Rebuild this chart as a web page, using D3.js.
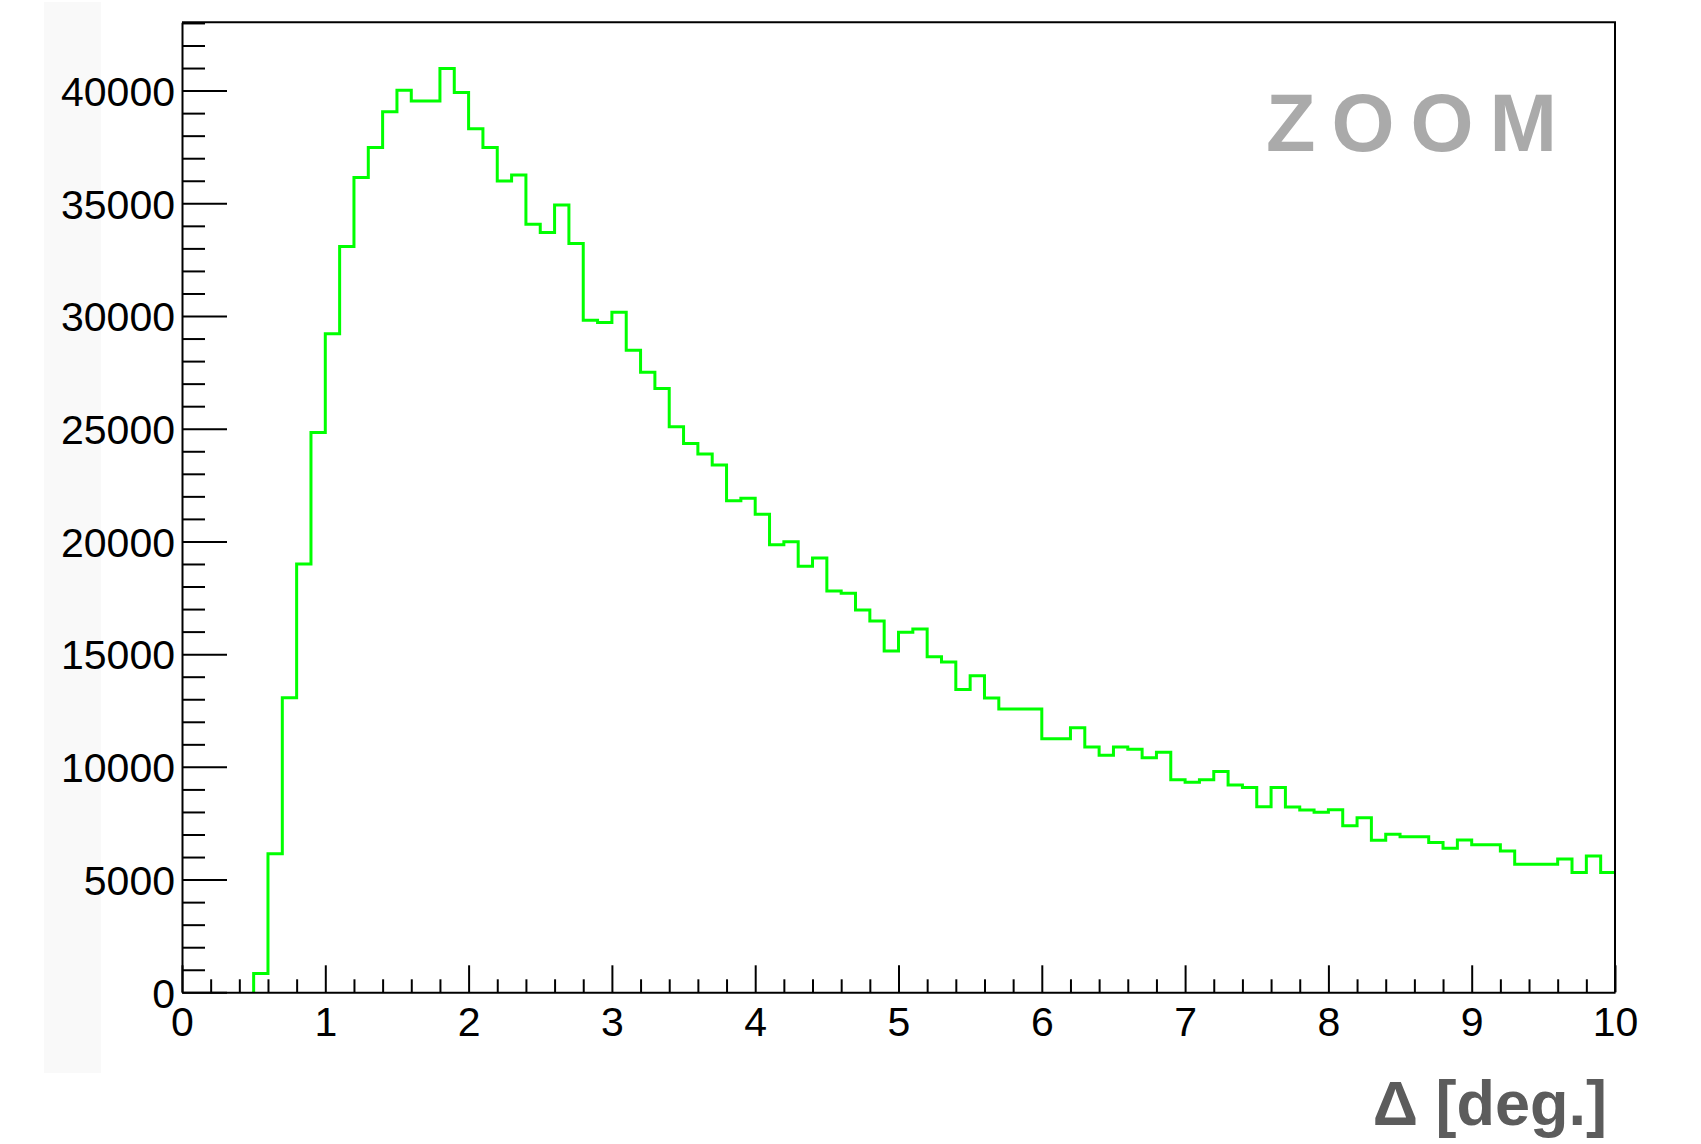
<!DOCTYPE html>
<html>
<head>
<meta charset="utf-8">
<script src="https://cdn.jsdelivr.net/npm/d3@7"></script>
<style>
  html, body { margin: 0; padding: 0; background: #ffffff; }
  svg { display: block; }
</style>
</head>
<body>
<svg id="chart" width="1701" height="1144"></svg>
<script>
// Histogram of the opening angle, 100 bins of 0.1 deg from 0 to 10
const binLow = 0;
const binHigh = 10;
const binWidth = 0.1;
const counts = [
  0, 0, 0, 0, 0, 830, 6150, 13070, 19000, 24830,
  29210, 33080, 36140, 37470, 39060, 40020, 39540, 39540, 40980, 39910,
  38310, 37470, 35990, 36260, 34070, 33700, 34920, 33220, 29810, 29710,
  30170, 28480, 27510, 26780, 25090, 24340, 23880, 23390, 21810, 21920,
  21210, 19850, 19990, 18900, 19260, 17800, 17700, 16960, 16470, 15140,
  15970, 16120, 14890, 14650, 13430, 14040, 13060, 12570, 12570, 12570,
  11250, 11250, 11730, 10880, 10510, 10880, 10780, 10410, 10650, 9430,
  9320, 9430, 9790, 9200, 9080, 8230, 9080, 8220, 8090, 7990,
  8100, 7390, 7740, 6740, 7010, 6900, 6900, 6640, 6390, 6760,
  6540, 6540, 6270, 5680, 5680, 5680, 5910, 5310, 6050, 5310
];
const xMajorTicks = [0, 1, 2, 3, 4, 5, 6, 7, 8, 9, 10];
const yMajorTicks = [0, 5000, 10000, 15000, 20000, 25000, 30000, 35000, 40000];
const xTitle = "Δ [deg.]";
const stamp = "ZOOM";

const svg = d3.select("#chart");
const frame = { left: 182, right: 1615, top: 22.3, bottom: 992.3 };

// ROOT-style top margin: 5% above the tallest bin
const yMax = d3.max(counts) * 1.05;

const x = d3.scaleLinear().domain([binLow, binHigh]).range([frame.left, frame.right]);
const y = d3.scaleLinear().domain([0, yMax]).range([frame.bottom, frame.top]);

// faint grey strip along the left edge
svg.append("rect")
  .attr("x", 44).attr("y", 2).attr("width", 57).attr("height", 1071)
  .attr("fill", "#f9f9f9");

// step outline of the histogram, starting at the first filled bin
const first = counts.findIndex(v => v > 0);
const pts = [[binLow + first * binWidth, 0]];
for (let i = first; i < counts.length; i++) pts.push([binLow + i * binWidth, counts[i]]);
pts.push([binHigh, counts[counts.length - 1]]);

svg.append("path")
  .datum(pts)
  .attr("fill", "none")
  .attr("stroke", "#00ff00")
  .attr("stroke-width", 3)
  .attr("d", d3.line().x(d => x(d[0])).y(d => y(d[1])).curve(d3.curveStepAfter));

const labelFont = "'Liberation Sans', Arial, Helvetica, sans-serif";

function styleAxis(g) {
  g.selectAll("path.domain").attr("stroke", "#000").attr("stroke-width", 2);
  g.selectAll(".tick line").attr("stroke", "#000").attr("stroke-width", 2);
  g.selectAll(".tick text").attr("fill", "#000")
    .style("font-family", labelFont).style("font-size", "41px");
}

// y axis: minor ticks every 1000, major every 5000, pointing into the frame
const yMinor = d3.range(0, yMax, 1000).filter(v => v % 5000 !== 0);
svg.append("g")
  .attr("transform", `translate(${frame.left},0)`)
  .call(d3.axisLeft(y).tickValues(yMinor).tickSize(-23).tickSizeOuter(0).tickFormat(""))
  .call(styleAxis)
  .call(g => g.select("path.domain").remove());

svg.append("g")
  .attr("transform", `translate(${frame.left},0)`)
  .call(d3.axisLeft(y).tickValues(yMajorTicks).tickSize(-45).tickSizeOuter(0).tickPadding(7).tickFormat(d3.format("d")))
  .call(styleAxis)
  .call(g => g.selectAll(".tick text").attr("dy", "0.36em"));

// x axis: minor ticks every 0.2, major every 1
const xMinor = d3.range(0, 50).map(i => i * 0.2).filter(v => Math.abs(v - Math.round(v)) > 1e-6);
svg.append("g")
  .attr("transform", `translate(0,${frame.bottom})`)
  .call(d3.axisBottom(x).tickValues(xMinor).tickSize(-13).tickSizeOuter(0).tickFormat(""))
  .call(styleAxis)
  .call(g => g.select("path.domain").remove());

svg.append("g")
  .attr("transform", `translate(0,${frame.bottom})`)
  .call(d3.axisBottom(x).tickValues(xMajorTicks).tickSize(-27).tickSizeOuter(0).tickPadding(15).tickFormat(d3.format("d")))
  .call(styleAxis);

// top and right edges of the frame
svg.append("path")
  .attr("fill", "none").attr("stroke", "#000").attr("stroke-width", 2)
  .attr("d", `M${frame.left},${frame.top}H${frame.right}V${frame.bottom}`);

// axis title
svg.append("text")
  .attr("x", 1607).attr("y", 1125)
  .attr("text-anchor", "end")
  .attr("fill", "#5c5c5c")
  .style("font-family", labelFont).style("font-weight", "bold").style("font-size", "63px")
  .text(xTitle);

// watermark in the top right corner
svg.append("text")
  .attr("x", 1266).attr("y", 151)
  .attr("fill", "#aaaaaa")
  .style("font-family", labelFont).style("font-weight", "bold").style("font-size", "81px")
  .style("letter-spacing", "16px")
  .text(stamp);
</script>
</body>
</html>
